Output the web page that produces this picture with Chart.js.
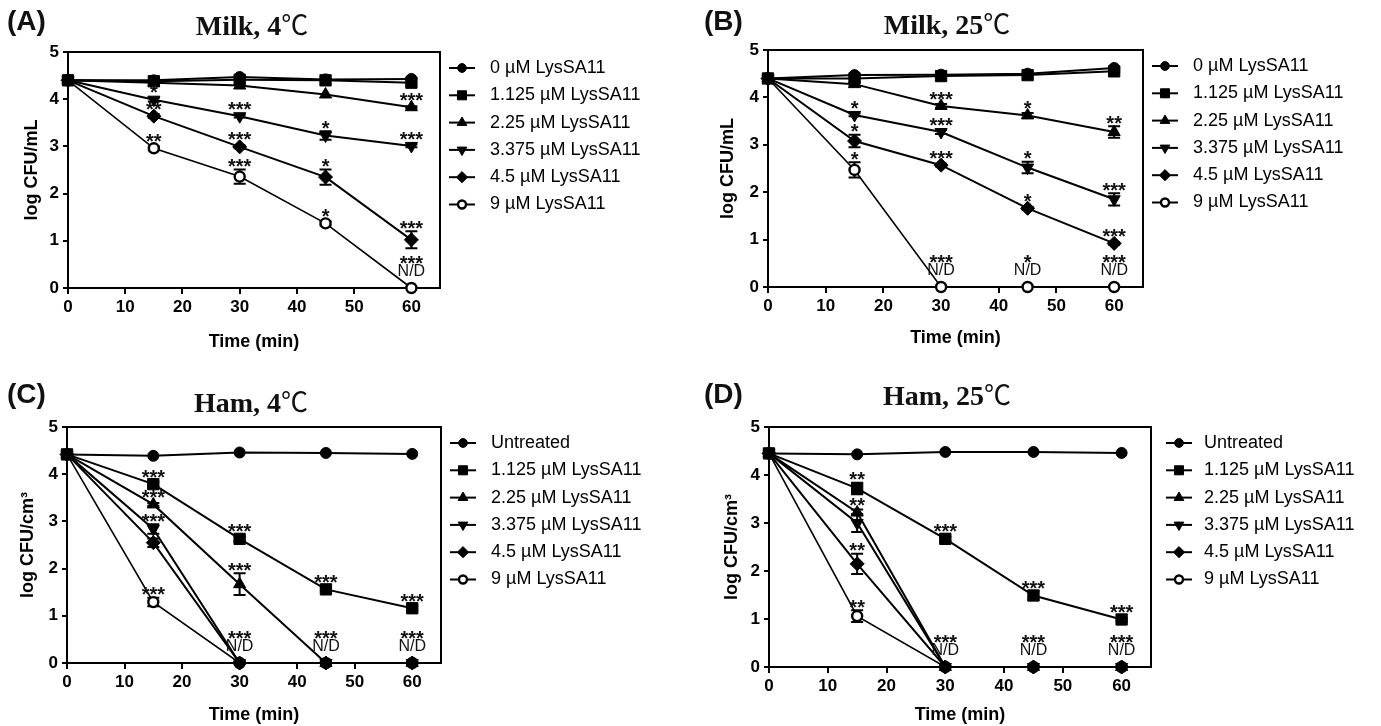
<!DOCTYPE html>
<html>
<head>
<meta charset="utf-8">
<script src="https://cdn.jsdelivr.net/npm/chart.js@4.4.1/dist/chart.umd.min.js"></script>
<style>
  body { margin: 0; background: #fff; }
  #page { position: relative; width: 1381px; height: 726px; overflow: hidden; background: #fff; }
  .panel { position: absolute; }
  .panel canvas { position: absolute; left: 0; top: 0; }
  .tag { position: absolute; font: bold 28px/28px "Liberation Sans", Arial, sans-serif; color: #111; white-space: nowrap; }
  .ttl { position: absolute; transform: translateX(-50%); font: bold 28px/28px "Liberation Serif", "Times New Roman", serif; color: #111; white-space: nowrap; }
  .ttl span { font-weight: normal; font-family: "Noto Sans CJK SC", "DejaVu Sans", sans-serif; font-size: 27px; }
</style>
</head>
<body>
<div id="page">
  <div class="panel" style="left:0;top:0;width:700px;height:363px">
    <canvas id="cA" width="700" height="363"></canvas>
    <div class="tag" style="left:7px;top:7px">(A)</div>
    <div class="ttl" style="left:252px;top:10px">Milk, 4<span>℃</span></div>
  </div>
  <div class="panel" style="left:700px;top:0;width:681px;height:363px">
    <canvas id="cB" width="681" height="363"></canvas>
    <div class="tag" style="left:4px;top:7px">(B)</div>
    <div class="ttl" style="left:247px;top:9px">Milk, 25<span>℃</span></div>
  </div>
  <div class="panel" style="left:0;top:363px;width:700px;height:363px">
    <canvas id="cC" width="700" height="363"></canvas>
    <div class="tag" style="left:7px;top:17px">(C)</div>
    <div class="ttl" style="left:251px;top:24px">Ham, 4<span>℃</span></div>
  </div>
  <div class="panel" style="left:700px;top:363px;width:681px;height:363px">
    <canvas id="cD" width="681" height="363"></canvas>
    <div class="tag" style="left:4px;top:17px">(D)</div>
    <div class="ttl" style="left:247px;top:17px">Ham, 25<span>℃</span></div>
  </div>
</div>

<script>
// sampling times and axis ticks
const times = [0, 15, 30, 45, 60];
const xTicks = [0, 10, 20, 30, 40, 50, 60];
const yTicks = [0, 1, 2, 3, 4, 5];

const milkLabels = ['0 µM LysSA11', '1.125 µM LysSA11', '2.25 µM LysSA11', '3.375 µM LysSA11', '4.5 µM LysSA11', '9 µM LysSA11'];
const hamLabels = ['Untreated', '1.125 µM LysSA11', '2.25 µM LysSA11', '3.375 µM LysSA11', '4.5 µM LysSA11', '9 µM LysSA11'];

// (A) milk, 4 C  - log CFU/mL, one row per concentration
const milk4Values = [
  [4.40, 4.40, 4.47, 4.42, 4.43],
  [4.40, 4.38, 4.41, 4.40, 4.35],
  [4.40, 4.35, 4.29, 4.10, 3.83],
  [4.40, 3.99, 3.64, 3.23, 3.01],
  [4.40, 3.64, 2.99, 2.35, 1.02],
  [4.40, 2.96, 2.36, 1.37, 0]
];
const milk4Errors = [
  [0, 0, 0, 0, 0],
  [0, 0, 0, 0, 0],
  [0, 0, 0, 0, 0.02],
  [0, 0.04, 0.03, 0.09, 0.03],
  [0, 0.04, 0.03, 0.16, 0.18],
  [0, 0.04, 0.15, 0.04, 0]
];
const milk4Stars = [
  ['', '', '', '', ''],
  ['', '', '', '', ''],
  ['', '', '', '', '***'],
  ['', '*', '***', '*', '***'],
  ['', '**', '***', '*', '***'],
  ['', '**', '***', '*', '']
];
const milk4ND = ['', '', '', '', '***'];

// (B) milk, 25 C
const milk25Values = [
  [4.40, 4.47, 4.48, 4.50, 4.62],
  [4.40, 4.40, 4.45, 4.47, 4.55],
  [4.40, 4.28, 3.82, 3.62, 3.27],
  [4.40, 3.63, 3.27, 2.52, 1.85],
  [4.40, 3.08, 2.57, 1.66, 0.92],
  [4.40, 2.47, 0, 0, 0]
];
const milk25Errors = [
  [0, 0, 0, 0, 0.02],
  [0, 0, 0, 0, 0.02],
  [0, 0.04, 0.04, 0.05, 0.12],
  [0, 0.03, 0.04, 0.12, 0.13],
  [0, 0.13, 0.03, 0.03, 0.03],
  [0, 0.16, 0, 0, 0]
];
const milk25Stars = [
  ['', '', '', '', ''],
  ['', '', '', '', ''],
  ['', '', '***', '*', '**'],
  ['', '*', '***', '*', '***'],
  ['', '*', '***', '*', '***'],
  ['', '*', '', '', '']
];
const milk25ND = ['', '', '***', '*', '***'];

// (C) ham, 4 C  - log CFU/cm3
const ham4Values = [
  [4.42, 4.39, 4.46, 4.45, 4.43],
  [4.42, 3.79, 2.63, 1.56, 1.16],
  [4.42, 3.36, 1.67, 0, 0],
  [4.42, 2.84, 0, 0, 0],
  [4.42, 2.55, 0, 0, 0],
  [4.42, 1.29, 0, 0, 0]
];
const ham4Errors = [
  [0, 0, 0, 0, 0],
  [0, 0.05, 0.05, 0.04, 0.04],
  [0, 0.03, 0.23, 0, 0],
  [0, 0.10, 0, 0, 0],
  [0, 0.09, 0, 0, 0],
  [0, 0.09, 0, 0, 0]
];
const ham4Stars = [
  ['', '', '', '', ''],
  ['', '***', '***', '***', '***'],
  ['', '***', '***', '', ''],
  ['', '***', '', '', ''],
  ['', '', '', '', ''],
  ['', '***', '', '', '']
];
const ham4ND = ['', '', '***', '***', '***'];

// (D) ham, 25 C
const ham25Values = [
  [4.45, 4.43, 4.48, 4.48, 4.46],
  [4.45, 3.72, 2.67, 1.49, 0.99],
  [4.45, 3.22, 0, 0, 0],
  [4.45, 3.00, 0, 0, 0],
  [4.45, 2.15, 0, 0, 0],
  [4.45, 1.06, 0, 0, 0]
];
const ham25Errors = [
  [0, 0, 0, 0, 0],
  [0, 0.12, 0.04, 0.09, 0.03],
  [0, 0.06, 0, 0, 0],
  [0, 0.19, 0, 0, 0],
  [0, 0.21, 0, 0, 0],
  [0, 0.12, 0, 0, 0]
];
const ham25Stars = [
  ['', '', '', '', ''],
  ['', '**', '***', '***', '***'],
  ['', '**', '', '', ''],
  ['', '', '', '', ''],
  ['', '**', '', '', ''],
  ['', '**', '', '', '']
];
const ham25ND = ['', '', '***', '***', '***'];

// marker look per concentration (same order in every panel)
const markers = [
  { pointStyle: 'circle', radius: 5.5, rotation: 0, fill: '#000', bw: 1 },
  { pointStyle: 'rect', radius: 8, rotation: 0, fill: '#000', bw: 1 },
  { pointStyle: 'triangle', radius: 7, rotation: 0, fill: '#000', bw: 1 },
  { pointStyle: 'triangle', radius: 7, rotation: 180, fill: '#000', bw: 1 },
  { pointStyle: 'rectRot', radius: 7, rotation: 0, fill: '#000', bw: 1 },
  { pointStyle: 'circle', radius: 5, rotation: 0, fill: '#fff', bw: 2.4 }
];

const SANS = '"Liberation Sans", Arial, sans-serif';
Chart.defaults.font.family = SANS;
Chart.defaults.color = '#000';

const panels = [
  { id: 'cA', w: 700, h: 363, labels: milkLabels, yTitle: 'log CFU/mL',
    values: milk4Values, errors: milk4Errors, stars: milk4Stars, nd: milk4ND,
    area: { left: 68, right: 440, top: 52, bottom: 288 }, yTitleX: 32, xTitleY: 342, legendDx: 0 },
  { id: 'cB', w: 681, h: 363, labels: milkLabels, yTitle: 'log CFU/mL',
    values: milk25Values, errors: milk25Errors, stars: milk25Stars, nd: milk25ND,
    area: { left: 68, right: 443, top: 50, bottom: 287 }, yTitleX: 28, xTitleY: 338, legendDx: 0 },
  { id: 'cC', w: 700, h: 363, labels: hamLabels, yTitle: 'log CFU/cm³',
    values: ham4Values, errors: ham4Errors, stars: ham4Stars, nd: ham4ND,
    area: { left: 67, right: 441, top: 64, bottom: 300 }, yTitleX: 28, xTitleY: 352, legendDx: 0 },
  { id: 'cD', w: 681, h: 363, labels: hamLabels, yTitle: 'log CFU/cm³',
    values: ham25Values, errors: ham25Errors, stars: ham25Stars, nd: ham25ND,
    area: { left: 69, right: 451, top: 64, bottom: 304 }, yTitleX: 32, xTitleY: 353, legendDx: 6 }
];

function drawStarText(ctx, txt, x, cy, size) {
  ctx.font = 'bold ' + size + 'px ' + SANS;
  ctx.textAlign = 'center';
  ctx.textBaseline = 'alphabetic';
  ctx.fillText(txt, x, cy + size * 0.58);
}

function makeExtras(p) {
  return {
    id: 'extras',
    beforeDatasetsDraw(chart) {
      const { ctx, chartArea: a, scales: { x, y } } = chart;
      ctx.save();
      ctx.strokeStyle = '#000';
      ctx.lineWidth = 2;
      ctx.strokeRect(a.left, a.top, a.right - a.left, a.bottom - a.top);
      // error bars
      p.errors.forEach((errs, i) => errs.forEach((e, j) => {
        if (!e) return;
        const v = p.values[i][j];
        const px = x.getPixelForValue(times[j]);
        const top = y.getPixelForValue(v + e);
        const bot = y.getPixelForValue(v - e);
        ctx.beginPath();
        ctx.moveTo(px, top); ctx.lineTo(px, bot);
        ctx.moveTo(px - 6, top); ctx.lineTo(px + 6, top);
        ctx.moveTo(px - 6, bot); ctx.lineTo(px + 6, bot);
        ctx.stroke();
      }));
      ctx.restore();
    },
    afterDraw(chart) {
      const { ctx, chartArea: a, scales: { x, y } } = chart;
      ctx.save();
      ctx.fillStyle = '#111';
      // significance marks
      p.stars.forEach((row, i) => row.forEach((s, j) => {
        if (!s) return;
        const v = p.values[i][j];
        const px = x.getPixelForValue(times[j]);
        const py = y.getPixelForValue(v);
        const et = y.getPixelForValue(v + p.errors[i][j]);
        drawStarText(ctx, s, px, Math.min(py - 12, et - 8), 20);
      }));
      // not detected
      const y0 = y.getPixelForValue(0);
      p.nd.forEach((s, j) => {
        if (!s) return;
        const px = x.getPixelForValue(times[j]);
        ctx.font = '16px ' + SANS;
        ctx.textAlign = 'center';
        ctx.textBaseline = 'middle';
        ctx.fillText('N/D', px, y0 - 16);
        drawStarText(ctx, s, px, y0 - 30, 20);
      });
      // legend
      const lx = a.right + 22 + p.legendDx;
      p.labels.forEach((lab, i) => {
        const ly = a.top + 16 + i * 27.3;
        const m = markers[i];
        ctx.strokeStyle = '#000';
        ctx.lineWidth = 2;
        ctx.beginPath();
        ctx.moveTo(lx - 13, ly); ctx.lineTo(lx + 13, ly);
        ctx.stroke();
        ctx.fillStyle = m.fill;
        ctx.lineWidth = m.bw;
        Chart.helpers.drawPoint(ctx, { pointStyle: m.pointStyle, rotation: m.rotation, radius: m.radius * 0.8, borderWidth: m.bw }, lx, ly);
        ctx.fillStyle = '#000';
        ctx.font = '18px ' + SANS;
        ctx.textAlign = 'left';
        ctx.textBaseline = 'middle';
        ctx.fillText(lab, a.right + 50 + p.legendDx / 2, ly);
      });
      ctx.restore();
    }
  };
}

panels.forEach(p => {
  const datasets = p.values.map((vals, i) => ({
    label: p.labels[i],
    data: times.map((t, j) => ({ x: t, y: vals[j] })),
    borderColor: '#000',
    borderWidth: i === 5 ? 1.6 : 2,
    pointStyle: markers[i].pointStyle,
    pointRotation: markers[i].rotation,
    pointRadius: markers[i].radius,
    pointBackgroundColor: markers[i].fill,
    pointBorderColor: '#000',
    pointBorderWidth: markers[i].bw,
    tension: 0,
    clip: false
  }));

  new Chart(document.getElementById(p.id).getContext('2d'), {
    type: 'line',
    data: { datasets },
    options: {
      responsive: false,
      animation: false,
      layout: { padding: { left: 0, top: p.area.top, right: p.w - p.area.right, bottom: 0 } },
      plugins: { legend: { display: false }, tooltip: { enabled: false } },
      scales: {
        x: {
          type: 'linear', min: 0, max: 65,
          afterBuildTicks: s => { s.ticks = xTicks.map(v => ({ value: v })); },
          afterFit: s => { s.height = p.h - p.area.bottom; },
          ticks: { color: '#000', font: { size: 17, weight: 'bold' }, padding: 3, maxRotation: 0 },
          grid: { drawOnChartArea: false, drawTicks: true, tickLength: 6, color: '#000', lineWidth: 2 },
          border: { display: true, color: '#000', width: 2 },
          title: { display: true, text: 'Time (min)', color: '#000', font: { size: 18, weight: 'bold' },
                   padding: { top: 0, bottom: Math.max(0, p.h - p.xTitleY - 10.8) } }
        },
        y: {
          type: 'linear', min: 0, max: 5,
          afterBuildTicks: s => { s.ticks = yTicks.map(v => ({ value: v })); },
          afterFit: s => { s.width = p.area.left; },
          ticks: { color: '#000', font: { size: 17, weight: 'bold' }, padding: 4 },
          grid: { drawOnChartArea: false, drawTicks: true, tickLength: 5, color: '#000', lineWidth: 2 },
          border: { display: true, color: '#000', width: 2 },
          title: { display: true, text: p.yTitle, color: '#000', font: { size: 18, weight: 'bold' },
                   padding: { top: Math.max(0, p.yTitleX - 10.8), bottom: 0 } }
        }
      }
    },
    plugins: [makeExtras(p)]
  });
});
</script>
</body>
</html>
